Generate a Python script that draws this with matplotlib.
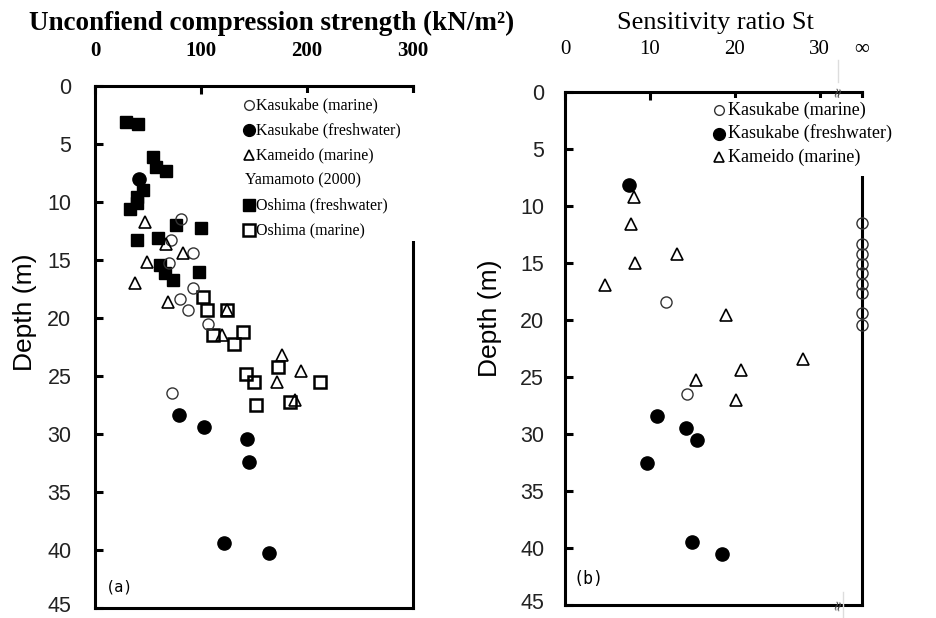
import numpy as np
import matplotlib
matplotlib.use("Agg")
import matplotlib.pyplot as plt
from matplotlib.patches import Rectangle
from matplotlib.transforms import offset_copy

# ---- data (a): unconfined compression strength qu (kN/m2) vs depth (m)
kas_mar_qu = [81, 72, 92, 70, 92, 80, 88, 107, 73]
kas_mar_d = [11.5, 13.3, 14.4, 15.3, 17.4, 18.4, 19.3, 20.5, 26.5]
kas_fw_qu = [41.5, 79, 102.5, 143, 145, 122, 164]
kas_fw_d = [8.05, 28.4, 29.4, 30.4, 32.4, 39.4, 40.3]
kam_qu = [47, 67, 83, 49, 37.5, 69, 125, 120, 176.5, 172, 194, 189]
kam_d = [11.7, 13.6, 14.4, 15.2, 17.0, 18.6, 19.3, 21.5, 23.2, 25.5, 24.6, 27.1]
osh_fw_qu = [29, 40.5, 54.7, 57.8, 66.6, 45.3, 40, 39.4, 32.8, 76.6, 100, 40,
             59.3, 61, 65.6, 73.4, 98.4]
osh_fw_d = [3.1, 3.3, 6.1, 7.0, 7.3, 9.0, 9.6, 10.1, 10.6, 12.0, 12.2, 13.3,
            13.1, 15.4, 16.1, 16.7, 16.0]
osh_mar_qu = [101.5, 106, 125, 111, 131, 140, 142, 150, 152, 173, 184, 212.5]
osh_mar_d = [18.2, 19.3, 19.3, 21.5, 22.2, 21.2, 24.8, 25.5, 27.5, 24.2, 27.2, 25.5]

# ---- data (b): sensitivity ratio St vs depth (m); inf = plotted at the "∞" column
kas_mar_st = [11.9, 14.4] + [np.inf] * 9
kas_mar_st_d = [18.4, 26.5, 11.5, 13.3, 14.2, 15.1, 15.9, 16.8, 17.6, 19.4, 20.4]
kas_fw_st = [7.5, 10.9, 14.25, 15.5, 9.7, 15.0, 18.5]
kas_fw_st_d = [8.2, 28.4, 29.45, 30.5, 32.5, 39.5, 40.5]
kam_st = [8.15, 7.75, 8.26, 13.2, 4.7, 19.0, 28.1, 20.7, 15.4, 20.1]
kam_st_d = [9.2, 11.6, 15.0, 14.2, 16.9, 19.6, 23.4, 24.4, 25.3, 27.0]

depth_ticks = list(range(0, 50, 5))
qu_ticks = [0, 100, 200, 300]
st_ticks = [0, 10, 20, 30, 35]
st_ticklabels = ["0", "10", "20", "30", "\u221e"]
INF_POS = 35

serif = ["Liberation Serif", "DejaVu Serif"]
sans = ["Liberation Sans", "DejaVu Sans"]

fig = plt.figure(figsize=(9.37, 6.18), dpi=100)
axa = fig.add_axes([95/937, 10/618, 318/937, 522/618])
axb = fig.add_axes([565/937, 13/618, 297/937, 513/618])

def style(ax, xpad, ypad):
    for s in ax.spines.values():
        s.set_linewidth(2.2)
    ax.xaxis.tick_top()
    ax.tick_params(axis="both", direction="in", length=6, width=2.2)
    ax.tick_params(axis="x", pad=xpad)
    ax.tick_params(axis="y", pad=ypad)
    ax.set_ylim(45, 0)
    ax.set_yticks(depth_ticks)
    ax.set_yticklabels([str(t) for t in depth_ticks], family=sans,
                       fontsize=15.5, color="#222222")
    # keep the bottom "45" inside the canvas
    last = ax.get_yticklabels()[-1]
    last.set_transform(offset_copy(last.get_transform(), fig=fig, y=4,
                                   units="dots"))

ms_o, ms_f, ms_s, ms_t = 8, 9.5, 9, 8.5
open_c = dict(marker="o", ls="none", mfc="none", mec="#333333", mew=1.0, ms=ms_o)
fill_c = dict(marker="o", ls="none", mfc="black", mec="black", ms=ms_f)
tri = dict(marker="^", ls="none", mfc="none", mec="black", mew=1.2, ms=ms_t)
fill_s = dict(marker="s", ls="none", mfc="black", mec="black", ms=ms_s)
open_s = dict(marker="s", ls="none", mfc="none", mec="black", mew=1.8, ms=ms_s)

# ---------- panel (a)
axa.set_xlim(0, 300)
axa.set_xticks(qu_ticks)
axa.set_xticklabels([str(t) for t in qu_ticks], family=serif, fontsize=15,
                    fontweight="bold")
style(axa, 18, 17)
axa.plot(osh_fw_qu, osh_fw_d, **fill_s)
axa.plot(osh_mar_qu, osh_mar_d, **open_s)
axa.plot(kas_mar_qu, kas_mar_d, **open_c)
axa.plot(kam_qu, kam_d, **tri)
axa.plot(kas_fw_qu, kas_fw_d, **fill_c)

# ---------- panel (b)
axb.set_xlim(0, 35)
axb.set_xticks(st_ticks)
axb.set_xticklabels(st_ticklabels, family=serif, fontsize=15)
style(axb, 24, 15)
kas_mar_st_plot = [INF_POS if np.isinf(v) else v for v in kas_mar_st]
axb.plot(kas_mar_st_plot, kas_mar_st_d, clip_on=False, zorder=5, **open_c)
axb.plot(kam_st, kam_st_d, **tri)
axb.plot(kas_fw_st, kas_fw_st_d, **fill_c)

# axis break marks between 30 and ∞
for y in (0, 45):
    axb.text(32.2, y, "\u2248", rotation=75, ha="center", va="center",
             fontsize=10, color="#444444", zorder=6, clip_on=False)
fig.add_artist(plt.Line2D([838/937, 838/937], [1 - 60/618, 1 - 82/618],
                          color="#dddddd", lw=1))
fig.add_artist(plt.Line2D([843/937, 843/937], [1 - 592/618, 1 - 617/618],
                          color="#dddddd", lw=1))

# ---------- manual legends (white boxes hide the right spines)
def legend(x0, y0, w, h, x_mk, x_tx, rows, dy, fs):
    fig.add_artist(Rectangle((x0/937, 1 - (y0 + h)/618), w/937, h/618,
                             facecolor="white", edgecolor="none", zorder=10))
    for i, (style_kw, label) in enumerate(rows):
        y = 1 - (y0 + 12 + i*dy)/618
        if style_kw is None:
            fig.text(x_mk/937 - 0.004, y, label, family=serif, fontsize=fs,
                     va="center", ha="left", zorder=11)
            continue
        kw = dict(style_kw)
        kw["ms"] = kw["ms"] - 1
        fig.add_artist(plt.Line2D([x_mk/937], [y], zorder=11, **kw))
        fig.text(x_tx/937, y, label, family=serif, fontsize=fs, va="center",
                 ha="left", zorder=11)

legend(243, 93, 222, 148, 249, 256,
       [(open_c, "Kasukabe (marine)"), (fill_c, "Kasukabe (freshwater)"),
        (tri, "Kameido (marine)"), (None, "Yamamoto (2000)"),
        (fill_s, "Oshima (freshwater)"), (open_s, "Oshima (marine)")], 25, 11.5)
legend(712, 98, 225, 78, 719, 728,
       [(open_c, "Kasukabe (marine)"), (fill_c, "Kasukabe (freshwater)"),
        (tri, "Kameido (marine)")], 23.5, 13)

# ---------- titles, labels
fig.text(272/937, 1 - 23/618, "Unconfiend compression strength (kN/m\u00b2)",
         family=serif, fontsize=19.5, fontweight="bold", ha="center", va="center")
fig.text(715/937, 1 - 23/618, "Sensitivity ratio St", family=serif,
         fontsize=19, ha="center", va="center")
fig.text(25/937, 1 - 312/618, "Depth (m)", family=sans, fontsize=19,
         rotation=90, ha="center", va="center")
fig.text(490/937, 1 - 318/618, "Depth (m)", family=sans, fontsize=19,
         rotation=90, ha="center", va="center")
axa.text(0.035, 0.04, "(a)", transform=axa.transAxes, family="DejaVu Sans Mono",
         fontsize=11, va="center", ha="left")
axb.text(0.03, 0.05, "(b)", transform=axb.transAxes, family="DejaVu Sans Mono",
         fontsize=12, va="center", ha="left")

fig.savefig("out.png", dpi=100)
